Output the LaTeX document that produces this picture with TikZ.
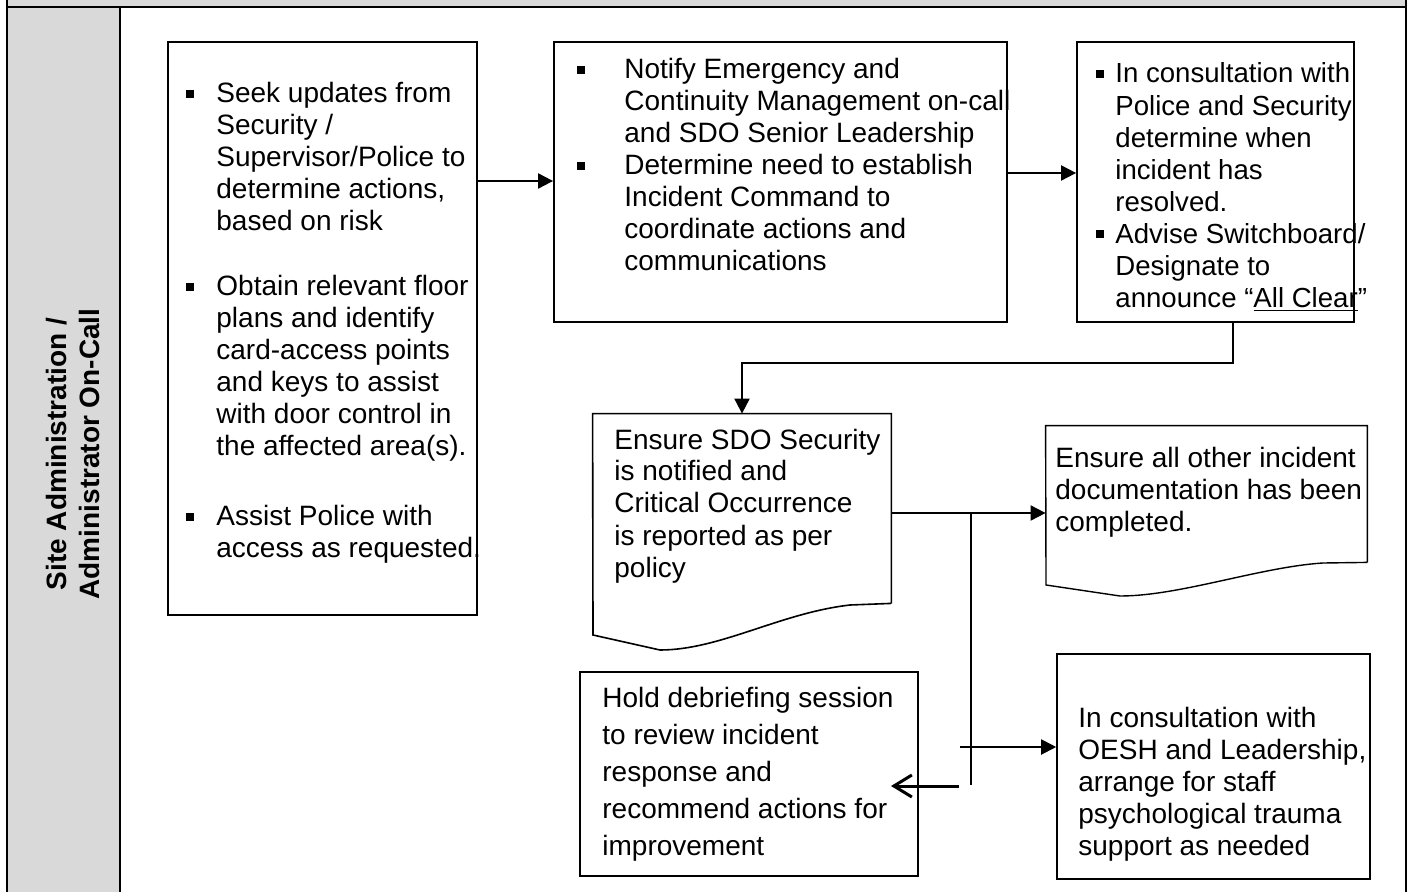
\documentclass[tikz,border=0pt]{standalone}
\usepackage{fontspec}
\setmainfont{Liberation Sans}
\usetikzlibrary{arrows.meta,fit}

\definecolor{lanegray}{HTML}{D9D9D9}
\newcommand{\sq}{\rule[2.5pt]{4pt}{4pt}}
\newcommand{\bl}[1]{\makebox[#1][l]{\sq}}

\begin{document}
\begin{tikzpicture}[
	x=0.5pt, y=-0.5pt,
	box/.style={
		draw, line width=0.9pt, inner sep=0pt
	},
	txt/.style={
		inner sep=0pt, anchor=base west,
		font=\fontsize{14}{16}\selectfont
	},
	flow/.style={
		-{Triangle[length=7.5pt,width=7.5pt]}, line width=1pt
	},
	back/.style={
		-{Straight Barb[length=9pt,width=11pt]}, line width=1.5pt
	}
]
\useasboundingbox (0,0) rectangle (1411,892);

% swimlane frame
\fill[lanegray] (7,0) rectangle (1406,7);
\fill[lanegray] (7,7) rectangle (120,892);
\draw[line width=1pt] (7,0) -- (7,892);
\draw[line width=1pt] (7,7) -- (1406,7);
\draw[line width=1pt] (1406,0) -- (1406,892);
\draw[line width=1pt] (120,7) -- (120,892);
\node[rotate=90, align=center, inner sep=0pt,
	font=\bfseries\fontsize{14}{16.5}\selectfont] (lane) at (73,454)
	{Site Administration /\\Administrator On-Call};

% boxes
\node[box, fit={(168,42) (477,615)}] (seek) {};
\node[txt] (seektxt) at (186,103) {\begin{tabular}[t]{@{}l@{}l@{}}
\bl{15pt} & Seek updates from\\
 & Security /\\
 & Supervisor/Police to\\
 & determine actions,\\
 & based on risk\\[16.5pt]
\bl{15pt} & Obtain relevant floor\\
 & plans and identify\\
 & card-access points\\
 & and keys to assist\\
 & with door control in\\
 & the affected area(s).\\[19pt]
\bl{15pt} & Assist Police with\\
 & access as requested.
\end{tabular}};

\node[box, fit={(554,42) (1007,322)}] (notify) {};
\node[txt] (notifytxt) at (577,79) {\begin{tabular}[t]{@{}l@{}l@{}}
\bl{23.5pt} & Notify Emergency and\\
 & Continuity Management on-call\\
 & and SDO Senior Leadership\\
\bl{23.5pt} & Determine need to establish\\
 & Incident Command to\\
 & coordinate actions and\\
 & communications
\end{tabular}};

\node[box, fit={(1077,42) (1354,322)}] (clear) {};
\node[txt, font=\fontsize{13.8}{16.05}\selectfont] (cleartxt) at (1096,83) {\begin{tabular}[t]{@{}l@{}l@{}}
\bl{9.5pt} & In consultation with\\
 & Police and Security\\
 & determine when\\
 & incident has\\
 & resolved.\\
\bl{9.5pt} & Advise Switchboard/\\
 & Designate to\\
 & announce “\underline{All Clear}”
\end{tabular}};

\node[inner sep=0pt, fit={(593,414) (891,603)}] (report) {};
\draw[line width=0.8pt] (report.south east) -- (report.north east) -- (report.north west)
	-- (593,635) -- (660,650) .. controls (720,650) and (780,613) .. (850,605)
	-- (report.south east);
\node[txt] (reporttxt) at (614,449) {\begin{tabular}[t]{@{}l@{}}
Ensure SDO Security\\
is notified and\\
Critical Occurrence\\
is reported as per\\
policy
\end{tabular}};

\node[inner sep=0pt, fit={(1046,426) (1367,562)}] (docs) {};
\draw[line width=0.7pt] (docs.south east) -- (docs.north east) -- (docs.north west)
	-- (1046,585) -- (1120,596) .. controls (1180,596) and (1260,567) .. (1323,563)
	-- (docs.south east);
\node[txt] (docstxt) at (1055,467) {\begin{tabular}[t]{@{}l@{}}
Ensure all other incident\\
documentation has been\\
completed.
\end{tabular}};

\node[box, fit={(580,672) (918,876)}] (debrief) {};
\node[txt, font=\fontsize{14}{18.6}\selectfont] (debrieftxt) at (602,707) {\begin{tabular}[t]{@{}l@{}}
Hold debriefing session\\
to review incident\\
response and\\
recommend actions for\\
improvement
\end{tabular}};

\node[box, line width=0.8pt, fit={(1057,654) (1370,879)}] (trauma) {};
\node[txt] (traumatxt) at (1078,727) {\begin{tabular}[t]{@{}l@{}}
In consultation with\\
OESH and Leadership,\\
arrange for staff\\
psychological trauma\\
support as needed
\end{tabular}};

% connectors
\coordinate (split) at (971,513);
\coordinate (splitend) at (971,785);
\coordinate (tap) at (960,747);
\coordinate (bk) at (959,786);
\coordinate (bktip) at (891,786);

\draw[flow] (seek.east |- 0,181) -- (notify.west |- 0,181);
\draw[flow] (notify.east |- 0,173) -- (clear.west |- 0,173);
\draw[flow] (clear.south -| 1233,0) -- (1233,363) -| (report.north -| 742,0);
\draw[flow] (report.east |- split) -- (docs.west |- split);
\draw[line width=0.7pt] (split) -- (splitend);
\draw[flow] (tap) -- (trauma.west |- tap);
\draw[back] (bk) -- (bktip);
\end{tikzpicture}
\end{document}
